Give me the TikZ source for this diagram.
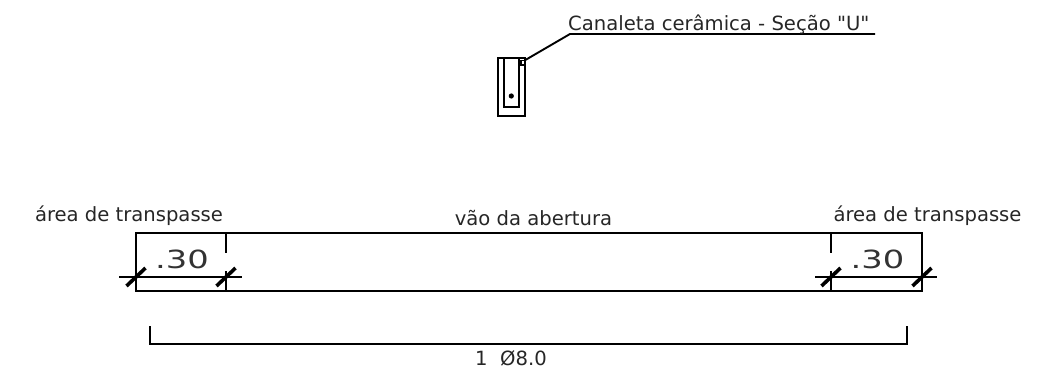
\documentclass[tikz,border=0pt]{standalone}
\usepackage{fontspec}
\newfontfamily\plainf{DejaVu Sans}
\tikzset{
  txt/.style={inner sep=0pt,text=black!85,font=\plainf\fontsize{19.6pt}{22pt}\selectfont},
  dimtxt/.style={inner sep=0pt,text=black!80,font=\plainf\fontsize{25pt}{28pt}\selectfont,xscale=1.35},
  thin line/.style={draw=black,line width=1.9pt},
  tick/.style={draw=black,line width=3.6pt}
}
\begin{document}
\begin{tikzpicture}[x=1pt,y=-1pt]
\useasboundingbox (0,0) rectangle (1052,372);
% section
\draw[thin line] (498,58) rectangle (525,116);
\draw[thin line] (504,58) -- (504,107) -- (519,107) -- (519,58);
\draw[thin line] (521,60.5) rectangle (525,65);
\fill[black] (511.3,96) circle (2.6);
\coordinate (la) at (524.5,60.5);
\coordinate (lb) at (570,34);
\coordinate (lc) at (875,34);
\draw[thin line] (la) -- (lb) -- (lc);
\node[txt,anchor=base west] (t1) at (568,30) {Canaleta cerâmica - Seção "U"};
% beam
\draw[thin line] (136,233) rectangle (922,291);
\draw[thin line] (226,233) -- (226,252.5) (226,271) -- (226,291);
\draw[thin line] (831,233) -- (831,252.5) (831,271) -- (831,291);
\draw[thin line] (119,277) -- (242,277) (815,277) -- (937,277);
\foreach \x in {136,226,831,922}
  \draw[tick] (\x-9.5,286) -- (\x+9.5,268);
\node[dimtxt] (d1) at (182,259) {.30};
\node[dimtxt] (d2) at (877.5,259) {.30};
\node[txt,anchor=base] (a1) at (129,221) {área de transpasse};
\node[txt,anchor=base] (a2) at (927.5,221) {área de transpasse};
\node[txt,anchor=base] (v) at (533.5,225) {vão da abertura};
% bracket
\draw[thin line] (150,326) -- (150,344) -- (907,344) -- (907,326);
\node[txt,anchor=base] (r) at (511,365) {1\ \ Ø8.0};
\end{tikzpicture}
\end{document}
